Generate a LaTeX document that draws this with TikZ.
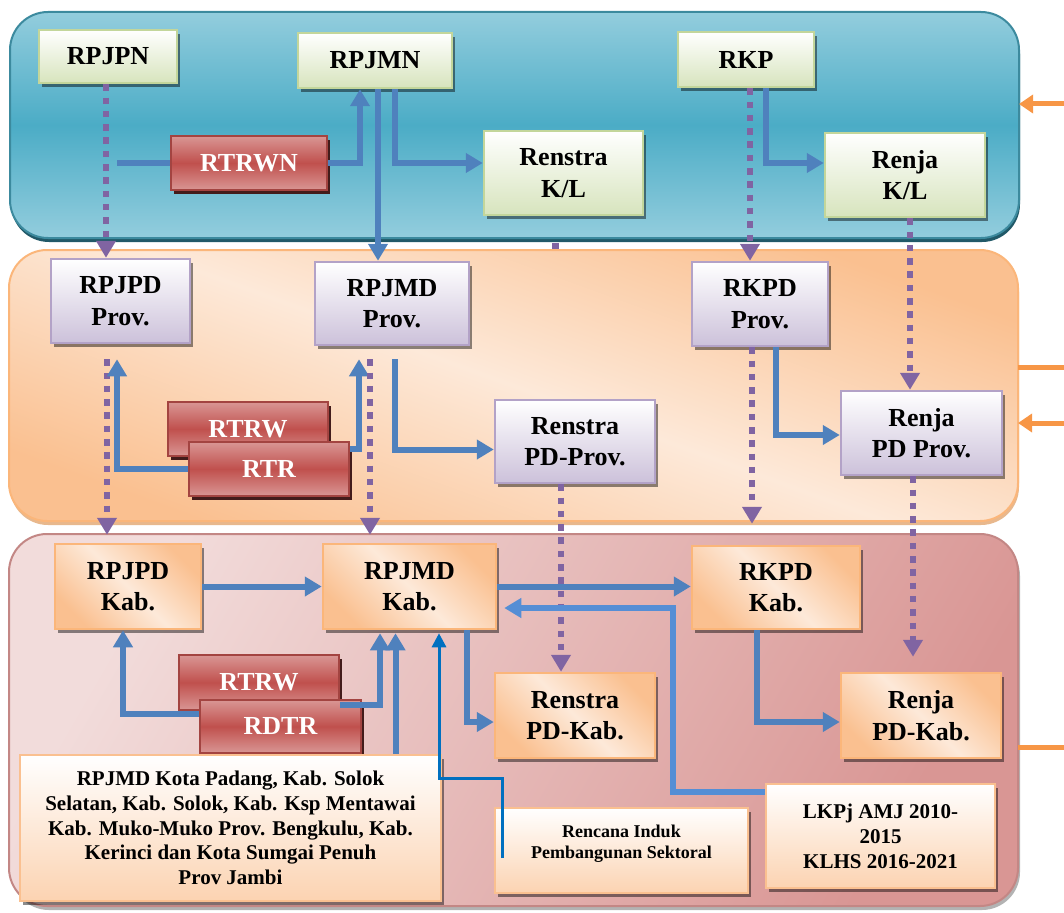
\documentclass[tikz,border=0pt]{standalone}
\usepackage{fontspec}
\setmainfont{Liberation Serif}
\usetikzlibrary{arrows.meta, calc, shadows}

\definecolor{bandblue}{HTML}{4BACC6}
\definecolor{bandbluelt}{HTML}{93CDDD}
\definecolor{bandblueshd}{HTML}{215968}
\definecolor{peach}{HTML}{FDE9D9}
\definecolor{peachdk}{HTML}{FAC090}
\definecolor{rose}{HTML}{F2DCDB}
\definecolor{rosedk}{HTML}{D99694}
\definecolor{greenlt}{HTML}{D7E4BD}
\definecolor{greenbd}{HTML}{C3D69B}
\definecolor{lilac}{HTML}{CCC1DA}
\definecolor{lilacbd}{HTML}{B3A2C7}
\definecolor{redmid}{HTML}{C0504D}
\definecolor{linkblue}{HTML}{4F81BD}
\definecolor{backblue}{HTML}{558ED5}
\definecolor{thinblue}{HTML}{0070C0}
\definecolor{dotpurple}{HTML}{8064A2}
\definecolor{sideorange}{HTML}{F79646}

\pgfdeclarelayer{back}
\pgfdeclarelayer{bands}
\pgfsetlayers{back,bands,main}

\tikzset{
  boxbase/.style={align=center, line width=2.5pt, inner sep=2pt,
    font=\fontsize{26}{31.5}\selectfont\bfseries,
    drop shadow={shadow xshift=3pt, shadow yshift=-4pt, fill=black, opacity=.45}},
  greenbox/.style={boxbase, draw=greenbd, top color=white, bottom color=greenlt},
  lilacbox/.style={boxbase, draw=lilacbd, top color=white, bottom color=lilac},
  peachbox/.style={boxbase, draw=peachdk!85!orange, left color=peachdk, right color=peachdk,
    middle color=peach, shading angle=135},
  notebox/.style={boxbase, draw=peachdk, top color=white, bottom color=peachdk!70},
  redbox/.style={boxbase, draw=redmid!85!black, line width=2pt, text=white,
    top color=rosedk, bottom color=rosedk, middle color=redmid,
    drop shadow={shadow xshift=3pt, shadow yshift=-4pt, fill=redmid!35!black, opacity=1}},
  link/.style={draw=linkblue, line width=6pt, -{Triangle[width=19pt,length=17pt]}},
  backlink/.style={link, draw=backblue},
  thinlink/.style={draw=thinblue, line width=3pt, -{Triangle[width=14pt,length=14pt]}},
  dotlink/.style={draw=dotpurple, line width=6.5pt, dash pattern=on 6.5pt off 6.8pt,
    -{Triangle[width=19pt,length=17pt]}},
  sidelink/.style={draw=sideorange, line width=5pt},
  band/.style={line width=2pt, rounded corners=38pt}
}

\begin{document}
\begin{tikzpicture}[x=1pt, y=-1pt]
  \useasboundingbox (0,0) rectangle (1064,912);

  % Bands
  \begin{pgfonlayer}{bands}
    \draw[band, draw=bandblue!80!black, top color=bandbluelt, bottom color=bandbluelt,
      middle color=bandblue,
      drop shadow={shadow xshift=1pt, shadow yshift=-4pt, fill=bandblueshd, opacity=1}]
      (10,12) rectangle (1019,238);
    \draw[band, draw=peachdk!85!orange, left color=peachdk, right color=peachdk,
      middle color=peach, shading angle=160,
      drop shadow={shadow xshift=1pt, shadow yshift=-4pt, fill=peachdk!60!brown, opacity=.8}]
      (9,250) rectangle (1018,521);
    \draw[band, draw=rosedk!90!black, left color=rose, right color=rosedk, shading angle=60,
      drop shadow={shadow xshift=2pt, shadow yshift=-4pt, fill=gray, opacity=.6}]
      (9,534) rectangle (1018,906);
  \end{pgfonlayer}

  % National level
  \node[greenbox, minimum width=138pt, minimum height=53pt] (RPJPN) at (108,56.5) {RPJPN};
  \node[greenbox, minimum width=154pt, minimum height=55pt] (RPJMN) at (375,60.5) {RPJMN};
  \node[greenbox, minimum width=136pt, minimum height=55pt] (RKP) at (746,59.5) {RKP};
  \node[greenbox, minimum width=159pt, minimum height=84pt] (RenstraKL) at (563.5,173) {Renstra\\K/L};
  \node[greenbox, minimum width=160pt, minimum height=84pt] (RenjaKL) at (905,175) {Renja\\K/L};
  \node[redbox, minimum width=156pt, minimum height=54pt] (RTRWN) at (249,163) {RTRWN};

  % Province level
  \node[lilacbox, minimum width=139pt, minimum height=84pt] (RPJPDprov) at (120.5,301) {RPJPD\\Prov.};
  \node[lilacbox, minimum width=154pt, minimum height=83pt] (RPJMDprov) at (392,303.5) {RPJMD\\Prov.};
  \node[lilacbox, minimum width=136pt, minimum height=84pt] (RKPDprov) at (760,304) {RKPD\\Prov.};
  \node[lilacbox, minimum width=160pt, minimum height=83pt] (RenstraProv) at (575,441.5) {Renstra\\PD-Prov.};
  \node[lilacbox, minimum width=161pt, minimum height=84pt] (RenjaProv) at (921.5,433) {Renja\\PD Prov.};
  \node[redbox, minimum width=160pt, minimum height=54pt] (RTRWprov) at (248,429) {RTRW};
  \node[redbox, minimum width=160pt, minimum height=54pt] (RTRprov) at (269,469) {RTR};

  % Regency level
  \node[peachbox, minimum width=146pt, minimum height=85pt] (RPJPDkab) at (128,586.5) {RPJPD\\Kab.};
  \node[peachbox, minimum width=173pt, minimum height=85pt] (RPJMDkab) at (409.5,586.5) {RPJMD\\Kab.};
  \node[peachbox, minimum width=168pt, minimum height=83pt] (RKPDkab) at (776,587.5) {RKPD\\Kab.};
  \node[peachbox, minimum width=160pt, minimum height=85pt] (RenstraKab) at (575,715.5) {Renstra\\PD-Kab.};
  \node[peachbox, minimum width=160pt, minimum height=85pt] (RenjaKab) at (921,715.5) {Renja\\PD-Kab.};
  \node[redbox, minimum width=160pt, minimum height=55pt] (RTRWkab) at (259,682.5) {RTRW};
  \node[redbox, minimum width=161pt, minimum height=53pt] (RDTR) at (280.5,726.5) {RDTR};
  \node[notebox, minimum width=421pt, minimum height=146pt, font=\fontsize{21}{24.8}\selectfont\bfseries]
    (Note) at (230.5,828) {RPJMD Kota Padang, Kab. Solok\\Selatan, Kab. Solok, Kab. Ksp Mentawai\\Kab. Muko-Muko Prov. Bengkulu, Kab.\\Kerinci dan Kota Sumgai Penuh\\Prov Jambi};
  \node[notebox, minimum width=253pt, minimum height=85pt, font=\fontsize{18}{21.5}\selectfont\bfseries]
    (Rencana) at (621.5,850.5) {Rencana Induk\\Pembangunan Sektoral\\[-4pt]\mbox{}};
  \node[notebox, minimum width=229pt, minimum height=104pt, font=\fontsize{21}{25}\selectfont\bfseries]
    (LKPj) at (880.5,836) {LKPj AMJ 2010-\\2015\\KLHS 2016-2021};

  % Side arrows
  \coordinate (sideA) at (1064,104);
  \coordinate (sideB) at (1064,367);
  \coordinate (sideC) at (1064,423);
  \coordinate (sideD) at (1064,747);
  \draw[sidelink, -{Triangle[width=18pt,length=14pt]}] (sideA) -- (1019,104);
  \draw[sidelink] (sideB) -- (1018,367);
  \draw[sidelink, -{Triangle[width=18pt,length=14pt]}] (sideC) -- (1018,423);
  \draw[sidelink] (sideD) -- (1018,747);

  % National links
  \coordinate (rtrwnIn) at (117,163);
  \draw[link, -] (rtrwnIn) -- (RTRWN.west);
  \draw[link] (RTRWN.east) -| ([xshift=-15pt]RPJMN.south);
  \draw[link] ([xshift=3pt]RPJMN.south) -- ([xshift=3pt]RPJMN.south |- RPJMDprov.north);
  \draw[link] ([xshift=20pt]RPJMN.south) |- ([yshift=10pt]RenstraKL.west);
  \draw[link] ([xshift=20pt]RKP.south) |- ([yshift=12pt]RenjaKL.west);
  \draw[dotlink] ([xshift=-2pt]RPJPN.south) -- ([xshift=-2pt]RPJPN.south |- RPJPDprov.north);
  \draw[dotlink] ([xshift=4pt]RKP.south) -- ([xshift=4pt]RKP.south |- RKPDprov.north);
  \draw[dotlink] ([xshift=5pt]RenjaKL.south) -- ([xshift=5pt]RenjaKL.south |- RenjaProv.north);
  \begin{pgfonlayer}{back}
    \draw[dotlink, -] ([xshift=-8pt]RenstraKL.south) -- ([xshift=-8pt]RenstraKL.south |- RenstraProv.north);
  \end{pgfonlayer}

  % Province links
  \draw[dotlink, shorten >=8pt] ([xshift=-13.5pt,yshift=-15pt]RPJPDprov.south)
    -- ([xshift=-13.5pt]RPJPDprov.south |- RPJPDkab.north);
  \draw[link] (RTRprov.west) -| ([xshift=-3.5pt,yshift=-15pt]RPJPDprov.south);
  \draw[link] ([yshift=20pt]RTRprov.east) -| ([xshift=-33pt,yshift=-13pt]RPJMDprov.south);
  \draw[dotlink, shorten >=8pt] ([xshift=-22pt,yshift=-13pt]RPJMDprov.south)
    -- ([xshift=-22pt]RPJMDprov.south |- RPJMDkab.north);
  \draw[link] ([xshift=3pt,yshift=-13pt]RPJMDprov.south) |- ([yshift=-8pt]RenstraProv.west);
  \draw[dotlink, shorten >=21pt] ([xshift=-8pt]RKPDprov.south) -- ([xshift=-8pt]RKPDprov.south |- RKPDkab.north);
  \draw[link] ([xshift=16pt]RKPDprov.south) |- ([yshift=-2pt]RenjaProv.west);
  \draw[dotlink, shorten >=15pt] ([xshift=-8.5pt]RenjaProv.south) -- ([xshift=-8.5pt]RenjaProv.south |- RenjaKab.north);
  \draw[dotlink] ([xshift=-14pt]RenstraProv.south) -- ([xshift=-14pt]RenstraProv.south |- RenstraKab.north);

  % Regency links
  \draw[link] (RPJPDkab.east) -- (RPJPDkab.east -| RPJMDkab.west);
  \draw[link] (RPJMDkab.east) -- (RPJMDkab.east -| RKPDkab.west);
  \draw[backlink, shorten >=7pt] ([yshift=44pt]LKPj.west) -| ([xshift=176pt,yshift=-21.5pt]RPJMDkab.east)
    -- ([yshift=-21.5pt]RPJMDkab.east);
  \draw[link] ([xshift=57.5pt]RPJMDkab.south) |- ([yshift=-6.5pt]RenstraKab.west);
  \draw[link] ([xshift=-19pt]RKPDkab.south) |- ([yshift=-6.5pt]RenjaKab.west);
  \draw[link] ([yshift=12.5pt]RDTR.west) -| ([xshift=-5pt]RPJPDkab.south);
  \draw[link, shorten >=3pt] ([yshift=-22.5pt]RTRWkab.east) -| ([xshift=-29.5pt]RPJMDkab.south);
  \draw[link, shorten >=3pt] ([xshift=165pt]Note.north) -- ([xshift=165pt]Note.north |- RPJMDkab.south);
  \draw[thinlink] ([xshift=-119.5pt,yshift=-7.5pt]Rencana.center)
    |- ([xshift=29.5pt,yshift=-148pt]RPJMDkab.south) -- ([xshift=29.5pt,yshift=-3pt]RPJMDkab.south);
\end{tikzpicture}
\end{document}
